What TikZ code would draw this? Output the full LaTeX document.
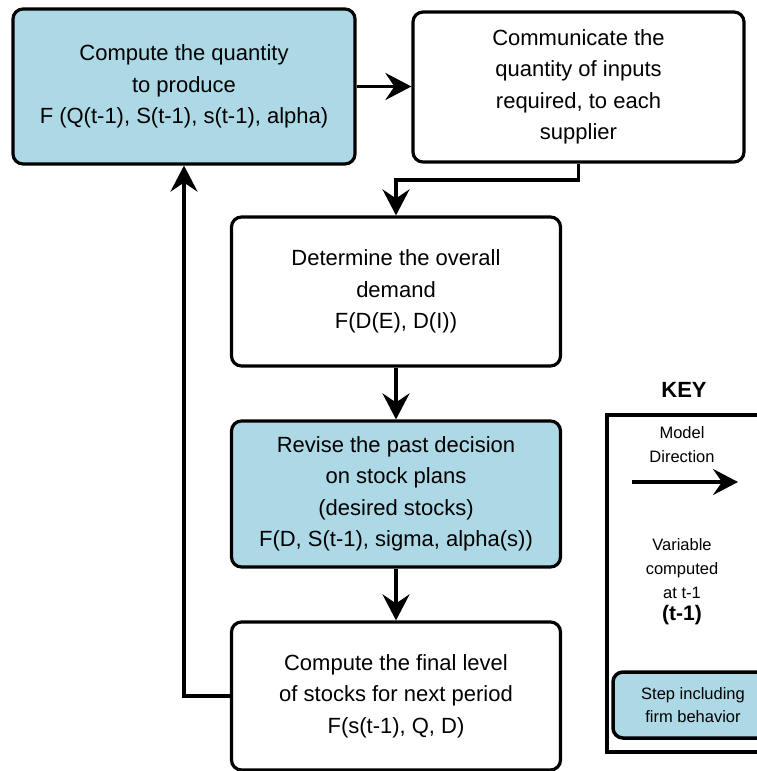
\documentclass[tikz,border=0pt]{standalone}
\usepackage{fontspec}
\setmainfont{Liberation Sans}
\usetikzlibrary{arrows.meta}
\definecolor{stepblue}{HTML}{ADD8E6}
\begin{document}
\begin{tikzpicture}[x=1pt,y=-1pt,
  box/.style={draw, line width=3.2pt, rounded corners=10pt, align=center,
    font=\fontsize{22}{31.5}\selectfont, inner sep=0pt},
  firm/.style={box, fill=stepblue},
  conn/.style={line width=3.6pt, -{Stealth[length=26pt,width=27pt,inset=9pt]}},
  keytext/.style={align=center, font=\fontsize{16.5}{24}\selectfont, inner sep=0pt}]
\useasboundingbox (0,0) rectangle (756,771);
% main boxes
\node[firm, minimum width=342pt, minimum height=155pt] (q) at (184,86.5)
  {Compute the quantity\\to produce\\F (Q(t-1), S(t-1), s(t-1), alpha)};
\node[box, minimum width=331pt, minimum height=150pt] (c) at (578.5,87)
  {Communicate the\\quantity of inputs\\required, to each\\supplier};
\node[box, minimum width=329pt, minimum height=149pt] (d) at (396,291.5)
  {Determine the overall\\demand\\F(D(E), D(I))};
\node[firm, minimum width=329pt, minimum height=146pt] (r) at (396,494)
  {Revise the past decision\\on stock plans\\(desired stocks)\\F(D, S(t-1), sigma, alpha(s))};
\node[box, minimum width=329pt, minimum height=148pt] (f) at (396,696)
  {Compute the final level\\of stocks for next period\\F(s(t-1), Q, D)};
% connectors
\coordinate (j) at (578.5,180);
\draw[conn] (q.east) -- (q.east -| c.west);
\draw[conn] (c.south) -- (j) -| (d.north);
\draw[conn] (d) -- (r);
\draw[conn] (r) -- (f);
\draw[conn] (f.west) -| (q.south);
% key
\node[font=\bfseries\fontsize{22}{26}\selectfont, inner sep=0pt] (keyt) at (684,390) {KEY};
\node[draw, line width=3.2pt, minimum width=160pt, minimum height=337pt, inner sep=0pt] (keybox) at (687,583.5) {};
\node[keytext] (md) at (682,444.5) {Model\\Direction};
\coordinate (a1) at (632,482);
\coordinate (a2) at (738,482);
\draw[line width=3.6pt, -{Stealth[length=25pt,width=26pt,inset=9pt]}] (a1) -- (a2);
\node[keytext] (var) at (682,569) {Variable\\computed\\at t-1};
\node[font=\bfseries\fontsize{21}{24}\selectfont, inner sep=0pt] (tb) at (682,615) {(t-1)};
\node[firm, font=\fontsize{16.5}{23}\selectfont, line width=3.5pt, minimum width=160pt, minimum height=66pt] (sb) at (693,705) {Step including\\firm behavior};
\end{tikzpicture}
\end{document}
